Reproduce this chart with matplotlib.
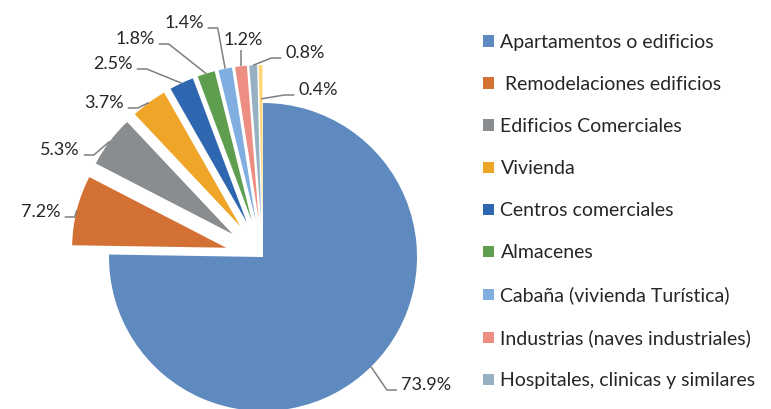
import numpy as np
import matplotlib.pyplot as plt

plt.rcParams['font.family'] = ['Lato', 'DejaVu Sans']

# data (last slice has no legend entry in the original)
categorias = ['Apartamentos o edificios', ' Remodelaciones edificios', 'Edificios Comerciales',
              'Vivienda', 'Centros comerciales', 'Almacenes', 'Cabaña (vivienda Turística)',
              'Industrias (naves industriales)', 'Hospitales, clinicas y similares']
porcentajes = [73.9, 7.2, 5.3, 3.7, 2.5, 1.8, 1.4, 1.2, 0.8, 0.4]
colores = ['#5E8AC0', '#D37034', '#8A8D8F', '#EFA628', '#2F66B0',
           '#5F9E4F', '#80AEE0', '#EE8D82', '#97B0C2', '#FFD77A']

W, H = 771, 409
fig = plt.figure(figsize=(W / 100, H / 100), dpi=100)
ax = fig.add_axes([0, 0, 1, 1])
ax.set_xlim(0, W)
ax.set_ylim(0, H)
ax.set_aspect('equal')
ax.axis('off')

radio = 154
centro = (263, H - 257)
explode = [0] + [38] * (len(porcentajes) - 1)

wedges, _ = ax.pie(porcentajes, colors=colores, explode=explode, startangle=90,
                   counterclock=False, radius=radio, center=centro,
                   wedgeprops=dict(linewidth=0))
ax.set_xlim(0, W)
ax.set_ylim(0, H)

# label layout: text centre (px from top-left), side where the leader attaches
pos_etq = [(426, 385, 'l'), (41, 212, 'r'), (60, 150, 'r'), (104, 103, 'r'), (113, 64, 'r'),
           (135, 39, 'r'), (184, 23, 'r'), (243, 40, 'b'), (305, 53, 'l'), (318, 90, 'l')]
r_lider = [1, 1, 1, 1, 1, 1, 1, 1, 1, 0.78]

textos = []
for v, (x, y, lado) in zip(porcentajes, pos_etq):
    t = ax.text(x, H - y, f'{v}%', ha='center', va='center', fontsize=13, color='#262626')
    textos.append(t)

fig.canvas.draw()
inv = ax.transData.inverted()
for w, t, (x, y, lado), rf in zip(wedges, textos, pos_etq, r_lider):
    ang = np.radians((w.theta1 + w.theta2) / 2)
    cx, cy = w.center
    x0 = cx + w.r * rf * np.cos(ang)
    y0 = cy + w.r * rf * np.sin(ang)
    bb = t.get_window_extent().transformed(inv)
    yl = H - y - 5
    if lado == 'r':
        xs = [x0, bb.x1 + 14, bb.x1 + 4]
        ys = [y0, yl, yl]
    elif lado == 'l':
        xs = [x0, bb.x0 - 14, bb.x0 - 4]
        ys = [y0, yl, yl]
    else:
        xs = [x0, x0]
        ys = [y0, bb.y0 - 2]
    ax.plot(xs, ys, color='#7F7F7F', lw=1.1, solid_capstyle='butt', zorder=1)

leg = ax.legend(wedges[:len(categorias)], categorias, loc='upper left',
                bbox_to_anchor=(483 / W, 1 - 34 / H), frameon=False, fontsize=14,
                handlelength=0.55, handleheight=0.55, handletextpad=0.35,
                labelspacing=1.29, borderpad=0, borderaxespad=0)
for txt in leg.get_texts():
    txt.set_color('#262626')

fig.savefig('out.png', dpi=100)
